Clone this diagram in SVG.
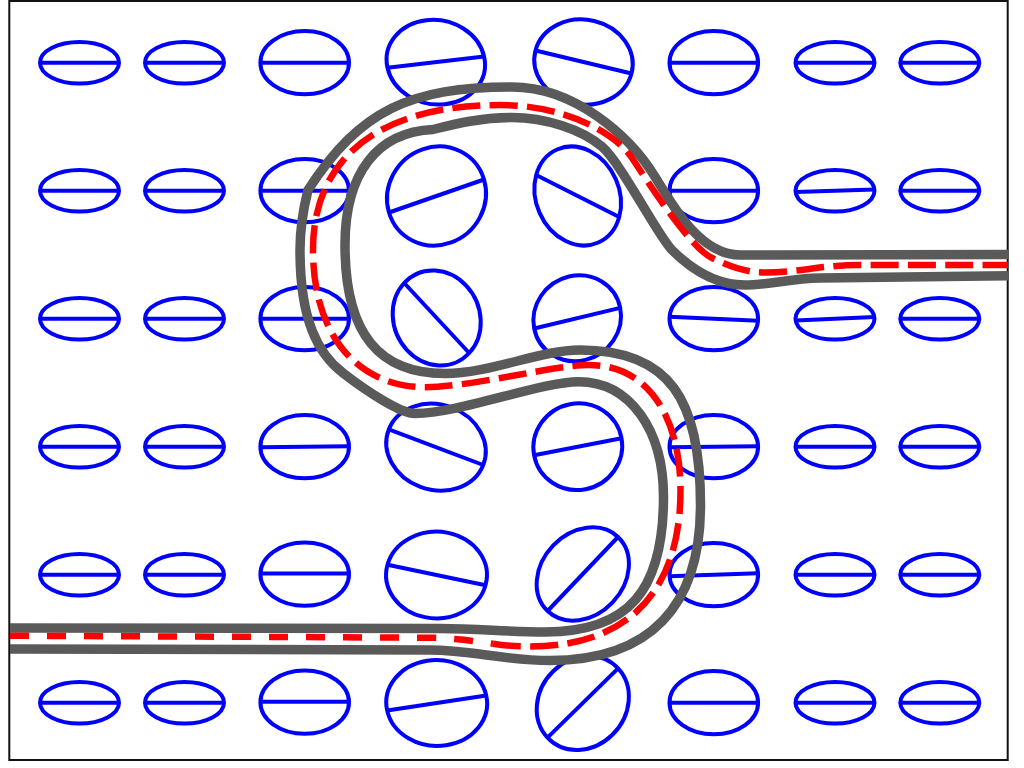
<svg xmlns="http://www.w3.org/2000/svg" width="1024" height="768" viewBox="0 0 1024 768">
<style>
.cell ellipse, .cell circle{fill:none;stroke:#0000ff;stroke-width:4;vector-effect:non-scaling-stroke}
.cell line{stroke:#0000ff;stroke-width:4}
.wall{fill:none;stroke:#5a5a5a;stroke-width:9.5;stroke-linejoin:round}
.mid{fill:none;stroke:#ff0000;stroke-width:6.5}
</style>
<rect x="0" y="0" width="1024" height="768" fill="#ffffff"/>
<rect x="9.3" y="1" width="998.4" height="759" fill="none" stroke="#111111" stroke-width="2"/>

<!-- row 1 -->
<g id="r1c1" class="cell"><ellipse cx="79.5" cy="62.7" rx="39.5" ry="20.8"/><line x1="40" y1="62.7" x2="119" y2="62.7"/></g>
<g id="r1c2" class="cell"><ellipse cx="184.5" cy="62.7" rx="39.5" ry="20.8"/><line x1="145" y1="62.7" x2="224" y2="62.7"/></g>
<g id="r1c3" class="cell"><ellipse cx="304.7" cy="62.7" rx="44.3" ry="31.6"/><line x1="260.4" y1="62.7" x2="349" y2="62.7"/></g>
<g id="r1c4" class="cell"><circle r="1" transform="matrix(48.3 -5.6 9.4 42 435.8 62.2)"/><line x1="387.5" y1="67.8" x2="484.1" y2="56.6"/></g>
<g id="r1c5" class="cell"><circle r="1" transform="matrix(48 11.5 -10.8 41 583.5 62)"/><line x1="535.5" y1="50.5" x2="631.5" y2="73.5"/></g>
<g id="r1c6" class="cell"><ellipse cx="713.8" cy="62.7" rx="44.3" ry="31.6"/><line x1="669.5" y1="62.7" x2="758.1" y2="62.7"/></g>
<g id="r1c7" class="cell"><ellipse cx="835" cy="62.7" rx="39.5" ry="20.8"/><line x1="795.5" y1="62.7" x2="874.5" y2="62.7"/></g>
<g id="r1c8" class="cell"><ellipse cx="939.8" cy="62.7" rx="39.5" ry="20.8"/><line x1="900.3" y1="62.7" x2="979.3" y2="62.7"/></g>

<!-- row 2 -->
<g id="r2c1" class="cell"><ellipse cx="79.5" cy="190.7" rx="39.5" ry="20.8"/><line x1="40" y1="190.7" x2="119" y2="190.7"/></g>
<g id="r2c2" class="cell"><ellipse cx="184.5" cy="190.7" rx="39.5" ry="20.8"/><line x1="145" y1="190.7" x2="224" y2="190.7"/></g>
<g id="r2c3" class="cell"><ellipse cx="304.7" cy="190.7" rx="44.3" ry="31.6"/><line x1="260.4" y1="190.7" x2="349" y2="190.7"/></g>
<g id="r2c4" class="cell"><circle r="1" transform="matrix(47.5 -16.5 13.9 46.7 436.5 196)"/><line x1="389" y1="212.5" x2="484" y2="179.5"/></g>
<g id="r2c5" class="cell"><circle r="1" transform="matrix(41.5 21 -12.4 44.8 577.7 196)"/><line x1="536.2" y1="175" x2="619.2" y2="217"/></g>
<g id="r2c6" class="cell"><ellipse cx="713.8" cy="190.7" rx="44.3" ry="31.6"/><line x1="669.5" y1="190.7" x2="758.1" y2="190.7"/></g>
<g id="r2c7" class="cell"><ellipse cx="835" cy="190.7" rx="39.5" ry="20.8"/><line x1="795.5" y1="192" x2="874.5" y2="189.4"/></g>
<g id="r2c8" class="cell"><ellipse cx="939.8" cy="190.7" rx="39.5" ry="20.8"/><line x1="900.3" y1="190.7" x2="979.3" y2="190.7"/></g>

<!-- row 3 -->
<g id="r3c1" class="cell"><ellipse cx="79.5" cy="318.7" rx="39.5" ry="20.8"/><line x1="40" y1="318.7" x2="119" y2="318.7"/></g>
<g id="r3c2" class="cell"><ellipse cx="184.5" cy="318.7" rx="39.5" ry="20.8"/><line x1="145" y1="318.7" x2="224" y2="318.7"/></g>
<g id="r3c3" class="cell"><ellipse cx="304.7" cy="318.7" rx="44.3" ry="31.6"/><line x1="260.4" y1="318.7" x2="349" y2="318.7"/></g>
<g id="r3c4" class="cell"><circle r="1" transform="matrix(32.5 35 -29.7 32.1 436.7 318)"/><line x1="404.2" y1="283" x2="469.2" y2="353"/></g>
<g id="r3c5" class="cell"><circle r="1" transform="matrix(43 -10.3 8.3 41.7 577.2 318.2)"/><line x1="534.2" y1="328.5" x2="620.2" y2="307.9"/></g>
<g id="r3c6" class="cell"><ellipse cx="713.8" cy="318.7" rx="44.3" ry="31.6"/><line x1="669.5" y1="316.7" x2="758.1" y2="320.7"/></g>
<g id="r3c7" class="cell"><ellipse cx="835" cy="318.7" rx="39.5" ry="20.8"/><line x1="795.5" y1="320.5" x2="874.5" y2="316.9"/></g>
<g id="r3c8" class="cell"><ellipse cx="939.8" cy="318.7" rx="39.5" ry="20.8"/><line x1="900.3" y1="318.7" x2="979.3" y2="318.7"/></g>

<!-- row 4 -->
<g id="r4c1" class="cell"><ellipse cx="79.5" cy="446.7" rx="39.5" ry="20.8"/><line x1="40" y1="446.7" x2="119" y2="446.7"/></g>
<g id="r4c2" class="cell"><ellipse cx="184.5" cy="446.7" rx="39.5" ry="20.8"/><line x1="145" y1="446.7" x2="224" y2="446.7"/></g>
<g id="r4c3" class="cell"><ellipse cx="304.7" cy="446.7" rx="44.3" ry="31.6"/><line x1="260.4" y1="447.2" x2="349" y2="446.2"/></g>
<g id="r4c4" class="cell"><circle r="1" transform="matrix(47.2 17.8 -15.6 39.7 436 447.2)"/><line x1="388.8" y1="429.4" x2="483.2" y2="465"/></g>
<g id="r4c5" class="cell"><circle r="1" transform="matrix(43.7 -8.5 7.8 42.5 577.8 446.7)"/><line x1="534.1" y1="455.2" x2="621.5" y2="438.2"/></g>
<g id="r4c6" class="cell"><ellipse cx="713.8" cy="446.7" rx="44.3" ry="31.6"/><line x1="669.5" y1="447.2" x2="758.1" y2="446.2"/></g>
<g id="r4c7" class="cell"><ellipse cx="835" cy="446.7" rx="39.5" ry="20.8"/><line x1="795.5" y1="446.7" x2="874.5" y2="446.7"/></g>
<g id="r4c8" class="cell"><ellipse cx="939.8" cy="446.7" rx="39.5" ry="20.8"/><line x1="900.3" y1="446.7" x2="979.3" y2="446.7"/></g>

<!-- row 5 -->
<g id="r5c1" class="cell"><ellipse cx="79.5" cy="574.7" rx="39.5" ry="20.8"/><line x1="40" y1="574.7" x2="119" y2="574.7"/></g>
<g id="r5c2" class="cell"><ellipse cx="184.5" cy="574.7" rx="39.5" ry="20.8"/><line x1="145" y1="574.7" x2="224" y2="574.7"/></g>
<g id="r5c3" class="cell"><ellipse cx="304.7" cy="574.2" rx="44.3" ry="31.6"/><line x1="260.4" y1="573.5" x2="349" y2="573.5"/></g>
<g id="r5c4" class="cell"><circle r="1" transform="matrix(49 10.2 -11.8 42.1 436.5 575)"/><line x1="387.5" y1="564.8" x2="485.5" y2="585.2"/></g>
<g id="r5c5" class="cell"><circle r="1" transform="matrix(35.2 -37 29.8 28.3 582.8 574)"/><line x1="547.6" y1="611" x2="618" y2="537"/></g>
<g id="r5c6" class="cell"><ellipse cx="713.8" cy="574.7" rx="44.3" ry="31.6"/><line x1="669.5" y1="576.2" x2="758.1" y2="573.2"/></g>
<g id="r5c7" class="cell"><ellipse cx="835" cy="574.7" rx="39.5" ry="20.8"/><line x1="795.5" y1="574.7" x2="874.5" y2="574.7"/></g>
<g id="r5c8" class="cell"><ellipse cx="939.8" cy="574.7" rx="39.5" ry="20.8"/><line x1="900.3" y1="574.7" x2="979.3" y2="574.7"/></g>

<!-- row 6 -->
<g id="r6c1" class="cell"><ellipse cx="79.5" cy="702.7" rx="39.5" ry="20.8"/><line x1="40" y1="702.7" x2="119" y2="702.7"/></g>
<g id="r6c2" class="cell"><ellipse cx="184.5" cy="702.7" rx="39.5" ry="20.8"/><line x1="145" y1="702.7" x2="224" y2="702.7"/></g>
<g id="r6c3" class="cell"><ellipse cx="304.7" cy="702.2" rx="44.3" ry="31.6"/><line x1="260.4" y1="701.7" x2="349" y2="701.7"/></g>
<g id="r6c4" class="cell"><circle r="1" transform="matrix(49.5 -7.6 9.5 42.3 436.7 703)"/><line x1="387.2" y1="710.6" x2="486.2" y2="695.4"/></g>
<g id="r6c5" class="cell"><circle r="1" transform="matrix(35.3 -34.6 29.6 31.8 582.8 703)"/><line x1="547.5" y1="737.6" x2="618.1" y2="668.4"/></g>
<g id="r6c6" class="cell"><ellipse cx="713.8" cy="702.7" rx="44.3" ry="31.6"/><line x1="669.5" y1="702.7" x2="758.1" y2="702.7"/></g>
<g id="r6c7" class="cell"><ellipse cx="835" cy="702.7" rx="39.5" ry="20.8"/><line x1="795.5" y1="702.7" x2="874.5" y2="702.7"/></g>
<g id="r6c8" class="cell"><ellipse cx="939.8" cy="702.7" rx="39.5" ry="20.8"/><line x1="900.3" y1="702.7" x2="979.3" y2="702.7"/></g>

<g id="connectors">
<path id="wall-a" class="wall" d="M 10 628 L 440 628.5 C 480 628.5 505 632 545 632 C 628 632 663.5 591.5 663.5 497 C 663.5 430 630 381.7 578.7 381.7 C 540 381.7 460 413.5 415 413.5 C 400 413.5 365 390 343 373 C 318 354 300 320 300 250 C 300 230 303 210 308 190 C 360 110 410 87 512 87 C 575 87 630 136 655 176.7 C 673.4 206.5 700 255 740 255 L 1008 254.5"/>
<path id="wall-b" class="wall" d="M 10 649 L 430 650 C 470 650 505 660.5 550 660.5 C 649.3 660.5 700.5 607.1 700.5 505 C 700.5 400 670 350 580 350 C 540 350 490 373.5 445 373.5 C 380 373.5 345 335 345 245 C 345 172 378 132 433 129.5 C 455 124 480 117.5 512 117.5 C 545 117.5 581.4 129.2 602 146.7 C 621 162.9 657.9 235.9 672 250 C 689.7 267.7 715 285 745 285 C 770 285 790 278.5 820 278 L 1008 275.7"/>
<path id="centre-1" class="mid" stroke-dasharray="19 18" d="M 10 635.7 L 430 637.7 C 455 638.2 475 641 493 643.7"/>
<path id="centre-2" class="mid" stroke-dasharray="28 9.3" d="M 493 643.7 C 505 645.5 515 646.5 530 646.5 C 628 646.5 680.5 591.7 680.5 490 C 680.5 420 650 365 589 365 C 555 365 470 387.2 425 387.2 C 362 387.2 313 340 313 250 C 313 150 390 105 500 105 C 565 105 615.5 133.1 632 158 C 645.75 178.75 689.5 247.25 712 258 C 730 266.6 745 272.5 765 272.5 C 800 272.5 820 265 860 265 L 1008 265"/>
</g>
</svg>
